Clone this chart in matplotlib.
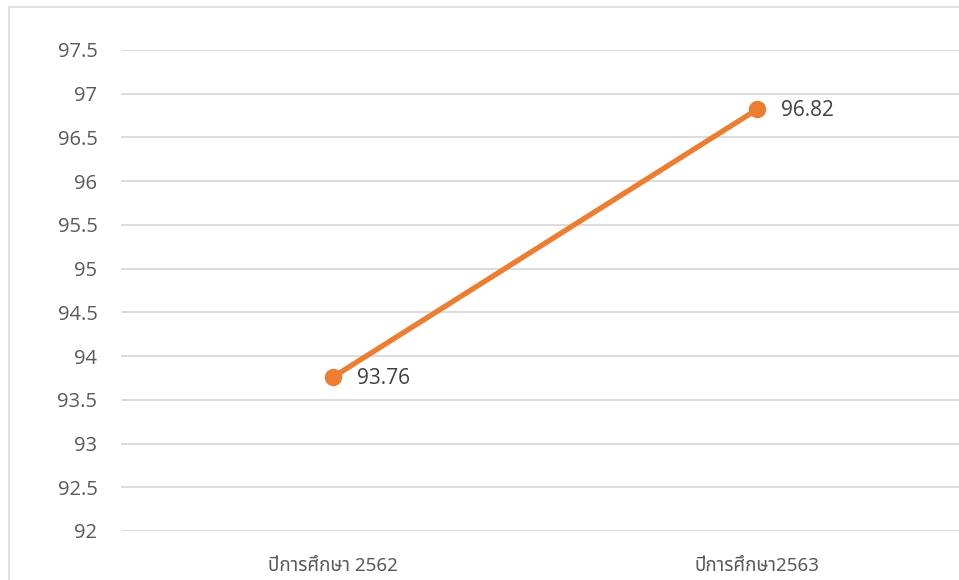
import matplotlib.pyplot as plt
from matplotlib import font_manager
from matplotlib.patches import Rectangle

# pick an installed font that has Thai glyphs for the category labels
installed = {f.name for f in font_manager.fontManager.ttflist}
thai_font = next((n for n in ['Noto Sans Thai', 'Athiti', 'Kanit', 'Prompt'] if n in installed), 'Athiti')
plt.rcParams['font.family'] = ['Open Sans', thai_font, 'DejaVu Sans']

years = ["ปีการศึกษา 2562", "ปีการศึกษา2563"]
scores = [93.76, 96.82]
y_ticks = [92, 92.5, 93, 93.5, 94, 94.5, 95, 95.5, 96, 96.5, 97, 97.5]
y_labels = ["92", "92.5", "93", "93.5", "94", "94.5", "95", "95.5", "96", "96.5", "97", "97.5"]

fig = plt.figure(figsize=(9.59, 5.80), dpi=100)
fig.patches.append(Rectangle((9 / 959, -0.1), 1.0, 1.1 - 7 / 580, transform=fig.transFigure,
                             fill=False, edgecolor='#D9D9D9', linewidth=1.2))

ax = fig.add_axes([121 / 959, 49 / 580, 848 / 959, 481 / 580])
x = list(range(len(years)))
ax.plot(x, scores, color='#ED7D31', linewidth=3.8, marker='o', markersize=11.5,
        solid_capstyle='round', zorder=3)
for xi, v in zip(x, scores):
    ax.annotate(f"{v:.2f}", (xi, v), xytext=(17, -1), textcoords='offset points',
                ha='left', va='center', fontsize=15, color='#404040')

ax.set_xlim(-0.5, 1.5)
ax.set_ylim(92, 97.5)
ax.set_yticks(y_ticks)
ax.set_yticklabels(y_labels, fontsize=14.5, color='#595959')
ax.set_xticks(x)
ax.set_xticklabels(years, fontsize=13.5, color='#595959', family=[thai_font, 'DejaVu Sans'],
                   fontweight='light')
ax.grid(axis='y', color='#D9D9D9', linewidth=1.3)
ax.set_axisbelow(True)
ax.tick_params(axis='y', length=0, pad=17)
ax.tick_params(axis='x', length=0, pad=19)
for s in ax.spines.values():
    s.set_visible(False)

fig.savefig('out.png', dpi=100)
